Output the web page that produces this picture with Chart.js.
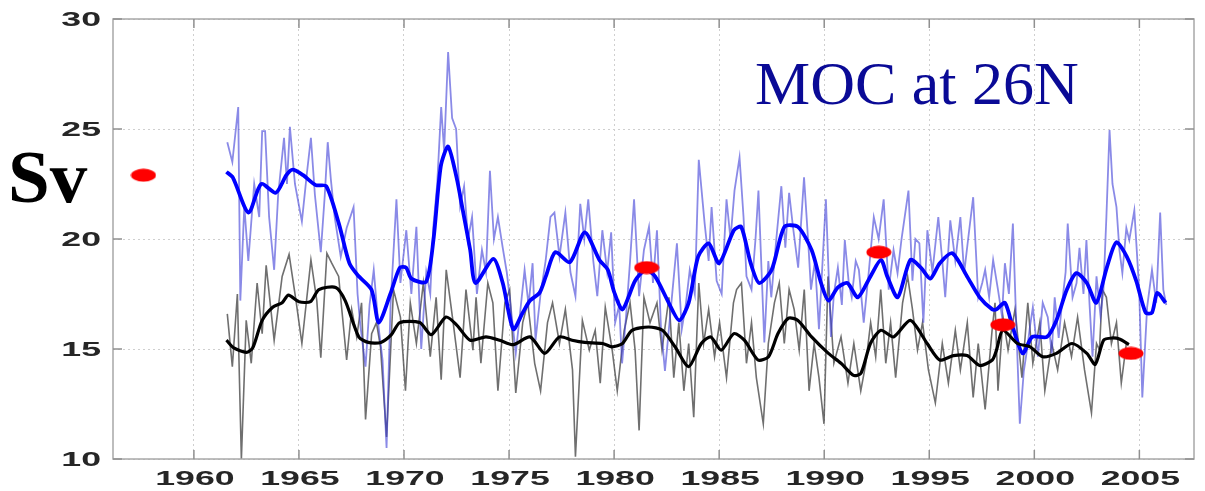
<!DOCTYPE html>
<html>
<head>
<meta charset="utf-8">
<title>MOC at 26N</title>
<script src="https://cdn.jsdelivr.net/npm/chart.js@4.4.1/dist/chart.umd.min.js"></script>
<style>
  html, body { margin: 0; padding: 0; background: #ffffff; }
  #wrap { width: 1205px; height: 491px; }
</style>
</head>
<body>
<div id="wrap"><canvas id="mocChart" width="1205" height="491"></canvas></div>
<script>
// --- Data ---
const rawBlueYears = [
  1961.59, 1961.83, 1962.11, 1962.21, 1962.40, 1962.59, 1962.87, 1963.11, 1963.25, 1963.39,
  1963.58, 1963.82, 1964.01, 1964.29, 1964.43, 1964.57, 1964.81, 1965.14, 1965.38, 1965.57,
  1965.76, 1966.04, 1966.23, 1966.37, 1966.52, 1966.70, 1966.99, 1967.27, 1967.60, 1967.79,
  1967.93, 1968.17, 1968.36, 1968.56, 1968.79, 1968.98, 1969.17, 1969.36, 1969.64, 1969.83,
  1970.11, 1970.35, 1970.59, 1970.82, 1971.06, 1971.25, 1971.39, 1971.58, 1971.77, 1971.91,
  1972.10, 1972.29, 1972.48, 1972.67, 1972.86, 1973.05, 1973.24, 1973.47, 1973.71, 1973.90,
  1974.09, 1974.28, 1974.47, 1974.70, 1974.89, 1975.03, 1975.32, 1975.51, 1975.74, 1975.93,
  1976.12, 1976.26, 1976.50, 1976.74, 1976.97, 1977.16, 1977.40, 1977.68, 1977.92, 1978.16,
  1978.39, 1978.58, 1978.77, 1979.01, 1979.20, 1979.44, 1979.67, 1979.86, 1980.05, 1980.24,
  1980.38, 1980.57, 1980.76, 1980.95, 1981.19, 1981.42, 1981.66, 1981.85, 1982.04, 1982.23,
  1982.42, 1982.75, 1982.99, 1983.22, 1983.41, 1983.60, 1983.84, 1984.03, 1984.31, 1984.50,
  1984.64, 1984.88, 1985.12, 1985.35, 1985.54, 1985.73, 1985.97, 1986.16, 1986.30, 1986.54,
  1986.73, 1986.87, 1987.15, 1987.34, 1987.48, 1987.72, 1987.96, 1988.15, 1988.33, 1988.52,
  1988.76, 1989.04, 1989.23, 1989.37, 1989.56, 1989.75, 1990.08, 1990.32, 1990.46, 1990.65,
  1990.84, 1990.98, 1991.17, 1991.31, 1991.50, 1991.65, 1991.88, 1992.12, 1992.36, 1992.59,
  1992.83, 1993.07, 1993.30, 1993.49, 1993.68, 1994.01, 1994.20, 1994.34, 1994.53, 1994.72,
  1994.91, 1995.15, 1995.43, 1995.62, 1995.76, 1996.00, 1996.24, 1996.48, 1996.66, 1996.85,
  1997.09, 1997.33, 1997.52, 1997.66, 1997.85, 1998.04, 1998.27, 1998.46, 1998.60, 1998.79,
  1998.98, 1999.17, 1999.31, 1999.50, 1999.65, 1999.79, 1999.93, 2000.17, 2000.40, 2000.64,
  2000.83, 2000.97, 2001.16, 2001.30, 2001.49, 2001.59, 2001.82, 2002.01, 2002.15, 2002.34,
  2002.48, 2002.63, 2002.77, 2002.96, 2003.15, 2003.29, 2003.43, 2003.58, 2003.72, 2003.91,
  2004.05, 2004.19, 2004.38, 2004.52, 2004.76, 2004.99, 2005.14, 2005.37, 2005.60, 2005.80,
  2005.99, 2006.14, 2006.28
];
const rawBlueValues = [
  24.4, 23.5, 26.0, 17.2, 21.5, 19.0, 22.5, 21.0, 24.9, 24.9,
  21.0, 18.6, 22.0, 24.6, 22.5, 25.1, 22.5, 20.8, 23.0, 24.6,
  22.0, 19.4, 22.0, 24.4, 22.7, 21.0, 19.2, 20.5, 21.45, 17.5,
  16.0, 14.2, 17.0, 18.6, 16.0, 14.5, 10.5, 17.0, 21.8, 18.0,
  20.4, 17.5, 20.55, 15.0, 18.5, 17.5, 20.5, 22.5, 26.0, 24.0,
  28.5, 25.5, 25.0, 21.5, 22.4, 20.0, 21.0, 17.5, 19.5, 18.5,
  23.1, 20.0, 21.0, 19.6, 18.5, 17.35, 14.8, 16.5, 18.6, 17.0,
  18.9, 15.4, 17.5, 19.0, 21.0, 21.2, 19.2, 21.2, 18.5, 17.4,
  21.6, 20.0, 21.8, 19.0, 17.4, 20.4, 18.5, 20.3, 16.2, 17.0,
  14.35, 16.5, 19.0, 21.8, 17.4, 19.5, 20.55, 18.0, 20.4, 16.0,
  14.0, 17.35, 19.8, 15.9, 17.0, 18.6, 17.5, 23.6, 20.7, 19.0,
  21.45, 18.1, 17.5, 21.8, 20.0, 22.2, 23.7, 21.0, 18.3, 17.7,
  20.0, 22.2, 15.3, 19.0, 17.35, 20.0, 22.4, 19.6, 22.1, 20.5,
  18.7, 22.8, 20.0, 17.7, 19.0, 15.9, 21.8, 15.55, 17.5, 18.7,
  17.0, 19.95, 18.0, 17.35, 19.0, 18.6, 16.2, 18.5, 21.0, 20.0,
  21.8, 17.7, 19.5, 18.45, 20.0, 22.2, 18.1, 20.0, 19.8, 16.2,
  20.4, 18.5, 21.0, 19.0, 17.35, 20.85, 19.0, 21.0, 18.45, 20.0,
  21.9, 17.35, 18.0, 18.6, 17.35, 19.05, 17.7, 16.5, 18.9, 17.5,
  20.7, 15.3, 11.6, 14.0, 14.95, 16.0, 16.9, 14.65, 17.1, 16.45,
  14.8, 17.35, 15.5, 16.9, 18.5, 20.7, 17.35, 18.0, 19.6, 17.5,
  19.95, 17.0, 14.65, 18.3, 16.5, 17.7, 21.0, 24.95, 22.5, 21.45,
  19.5, 18.45, 20.5, 19.95, 21.3, 17.7, 12.8, 16.9, 18.6, 17.1,
  21.2, 17.7, 17.0
];

const rawBlackYears = [
  1961.59, 1961.83, 1962.07, 1962.26, 1962.49, 1962.73, 1963.01, 1963.25, 1963.44, 1963.82,
  1964.20, 1964.53, 1964.86, 1965.14, 1965.57, 1965.85, 1966.04, 1966.33, 1966.56, 1966.89,
  1967.27, 1967.51, 1967.75, 1967.98, 1968.17, 1968.46, 1968.69, 1968.88, 1969.17, 1969.50,
  1969.83, 1970.07, 1970.30, 1970.59, 1970.92, 1971.25, 1971.53, 1971.77, 1972.01, 1972.34,
  1972.67, 1972.95, 1973.28, 1973.43, 1973.66, 1973.99, 1974.23, 1974.47, 1974.80, 1975.03,
  1975.32, 1975.65, 1975.89, 1976.22, 1976.50, 1976.83, 1977.07, 1977.40, 1977.68, 1978.02,
  1978.16, 1978.49, 1978.82, 1979.10, 1979.34, 1979.58, 1979.91, 1980.15, 1980.48, 1980.76,
  1981.00, 1981.19, 1981.42, 1981.71, 1982.04, 1982.28, 1982.61, 1982.84, 1983.08, 1983.32,
  1983.55, 1983.79, 1984.03, 1984.26, 1984.50, 1984.78, 1985.02, 1985.35, 1985.68, 1985.83,
  1986.06, 1986.30, 1986.54, 1986.77, 1987.10, 1987.34, 1987.63, 1987.86, 1988.10, 1988.33,
  1988.57, 1988.81, 1989.05, 1989.28, 1989.52, 1989.75, 1989.99, 1990.18, 1990.46, 1990.80,
  1991.13, 1991.41, 1991.74, 1991.98, 1992.21, 1992.45, 1992.69, 1992.93, 1993.16, 1993.40,
  1993.73, 1993.97, 1994.20, 1994.44, 1994.68, 1994.96, 1995.29, 1995.62, 1995.91, 1996.24,
  1996.48, 1996.81, 1997.09, 1997.33, 1997.66, 1997.99, 1998.13, 1998.27, 1998.51, 1998.75,
  1999.08, 1999.41, 1999.69, 1999.93, 2000.26, 2000.50, 2000.83, 2001.11, 2001.44, 2001.77,
  2002.06, 2002.39, 2002.72, 2002.96, 2003.10, 2003.24, 2003.43, 2003.67, 2003.91, 2004.14,
  2004.38
];
const rawBlackValues = [
  16.6, 14.2, 17.5, 10.0, 16.3, 14.35, 18.0, 15.7, 18.8, 15.4,
  18.3, 19.3, 17.2, 15.25, 19.05, 17.2, 14.6, 19.35, 18.9, 18.3,
  14.5, 16.8, 15.55, 17.1, 11.8, 15.7, 16.2, 15.1, 11.0, 17.7,
  16.45, 13.1, 17.1, 15.25, 18.0, 14.65, 17.35, 13.6, 18.6, 16.2,
  13.7, 17.7, 14.95, 17.35, 14.35, 18.0, 17.1, 13.1, 17.1, 17.7,
  13.0, 16.2, 17.1, 14.35, 13.1, 16.2, 17.1, 15.25, 16.8, 14.05,
  10.1, 16.3, 14.95, 15.85, 13.45, 16.9, 14.95, 13.1, 15.85, 17.1,
  14.95, 11.3, 17.35, 16.2, 17.1, 14.95, 17.35, 13.7, 16.2, 13.1,
  15.25, 11.9, 18.0, 15.25, 16.8, 14.65, 16.2, 13.7, 17.1, 17.7,
  18.0, 14.35, 16.2, 13.7, 11.6, 15.25, 17.1, 18.0, 15.25, 17.7,
  16.8, 14.95, 17.7, 13.1, 15.25, 13.7, 11.6, 18.3, 14.35, 15.55,
  13.45, 15.25, 13.1, 14.35, 16.2, 14.65, 17.7, 14.35, 16.2, 13.7,
  17.1, 18.3, 16.8, 14.95, 16.2, 14.05, 12.55, 15.25, 13.45, 15.85,
  14.05, 16.2, 12.8, 15.25, 12.25, 15.85, 17.1, 13.1, 16.45, 14.95,
  16.8, 13.7, 17.1, 14.35, 16.2, 13.1, 15.25, 14.05, 16.2, 14.65,
  16.45, 14.05, 12.1, 15.25, 14.95, 17.7, 17.35, 15.25, 16.2, 13.45,
  15.25
];

const smoothBlueYears = [
  1961.55, 1961.85, 1962.6, 1963.2, 1963.9, 1964.4, 1964.7, 1965.2, 1965.8, 1966.3,
  1966.9, 1967.4, 1967.8, 1968.45, 1968.8, 1969.35, 1969.8, 1970.1, 1970.35, 1971.05,
  1971.4, 1971.75, 1972.1, 1972.5, 1972.8, 1973.15, 1973.4, 1974.25, 1974.7, 1975.2,
  1975.65, 1976.0, 1976.45, 1976.75, 1977.2, 1977.9, 1978.6, 1979.3, 1979.7, 1980.0,
  1980.4, 1981.0, 1981.5, 1981.95, 1982.6, 1983.1, 1983.55, 1984.0, 1984.5, 1985.0,
  1985.7, 1986.05, 1986.5, 1986.9, 1987.5, 1988.1, 1988.75, 1989.4, 1989.85, 1990.2,
  1990.65, 1991.1, 1991.6, 1992.2, 1992.7, 1993.0, 1993.5, 1994.1, 1994.6, 1995.05,
  1995.5, 1996.1, 1996.8, 1997.4, 1998.0, 1998.2, 1998.6, 1999.0, 1999.45, 1999.9,
  2000.6, 2001.05, 2001.55, 2002.0, 2002.5, 2002.95, 2003.45, 2003.9, 2004.4, 2004.85,
  2005.3, 2005.6, 2005.85, 2006.25
];
const smoothBlueValues = [
  23.05, 22.8, 21.2, 22.5, 22.1, 22.9, 23.15, 22.9, 22.45, 22.4,
  20.7, 18.9, 18.35, 17.7, 16.2, 17.5, 18.7, 18.7, 18.2, 18.05,
  19.95, 23.3, 24.2, 22.8, 21.3, 19.5, 18.0, 19.1, 18.0, 15.9,
  16.65, 17.2, 17.55, 18.3, 19.4, 18.95, 20.3, 19.05, 18.6, 17.6,
  16.8, 18.1, 18.6, 18.3, 17.1, 16.3, 17.1, 19.2, 19.8, 18.9,
  20.4, 20.55, 18.9, 18.0, 18.6, 20.55, 20.55, 19.5, 18.0, 17.2,
  17.8, 18.0, 17.35, 18.3, 19.05, 18.3, 17.35, 19.05, 18.7, 18.2,
  18.9, 19.35, 18.3, 17.35, 16.8, 16.8, 17.1, 15.9, 14.8, 15.55,
  15.55, 16.3, 17.7, 18.45, 18.0, 17.1, 18.7, 19.85, 19.2, 18.1,
  16.65, 16.65, 17.55, 17.1
];

const smoothBlackYears = [
  1961.55, 1961.9, 1962.5, 1962.8, 1963.25, 1963.75, 1964.2, 1964.5, 1965.0, 1965.55,
  1965.95, 1966.75, 1967.2, 1967.85, 1968.3, 1968.9, 1969.4, 1969.8, 1970.75, 1971.3,
  1972.0, 1972.5, 1973.15, 1973.9, 1974.55, 1975.2, 1976.0, 1976.7, 1977.4, 1978.0,
  1978.6, 1979.45, 1979.9, 1980.4, 1980.85, 1981.65, 1982.3, 1982.9, 1983.55, 1984.15,
  1984.6, 1985.1, 1985.7, 1986.2, 1986.85, 1987.35, 1987.8, 1988.3, 1988.75, 1989.4,
  1990.2, 1990.8, 1991.4, 1991.75, 1992.2, 1992.7, 1993.3, 1994.1, 1994.9, 1995.5,
  1996.15, 1996.8, 1997.4, 1998.0, 1998.2, 1998.5, 1999.2, 1999.8, 2000.4, 2001.05,
  2001.8, 2002.5, 2002.9, 2003.3, 2003.7, 2004.05, 2004.5
];
const smoothBlackValues = [
  15.4, 15.05, 14.85, 15.05, 16.3, 16.9, 17.1, 17.45, 17.15, 17.15,
  17.7, 17.8, 17.2, 15.55, 15.3, 15.3, 15.65, 16.2, 16.2, 15.65,
  16.45, 16.1, 15.4, 15.55, 15.4, 15.2, 15.55, 14.8, 15.55, 15.4,
  15.3, 15.25, 15.1, 15.25, 15.85, 16.0, 15.85, 15.1, 14.2, 15.25,
  15.55, 14.95, 15.7, 15.4, 14.5, 14.65, 15.7, 16.4, 16.3, 15.55,
  14.8, 14.35, 13.8, 13.9, 15.25, 15.85, 15.55, 16.3, 15.25, 14.5,
  14.7, 14.7, 14.25, 14.5, 14.95, 15.85, 15.25, 15.1, 14.65, 14.8,
  15.25, 14.8, 14.3, 15.4, 15.5, 15.45, 15.2
];

// hydrographic section estimates (red ellipses)
const sectionYears = [1957.6, 1981.55, 1992.6, 1998.5, 2004.6];
const sectionValues = [22.9, 18.7, 19.4, 16.1, 14.8];

const xTickValues = [1960, 1965, 1970, 1975, 1980, 1985, 1990, 1995, 2000, 2005];
const yTickValues = [10, 15, 20, 25, 30];

// --- helpers ---
function toPoints(xs, ys) {
    return xs.map((x, i) => ({ x: x, y: ys[i] }));
}

// red ellipse marker
const ellipseMarker = document.createElement('canvas');
ellipseMarker.width = 26;
ellipseMarker.height = 14;
(function () {
    const c = ellipseMarker.getContext('2d');
    c.fillStyle = '#ff0000';
    c.beginPath();
    c.ellipse(13, 7, 12.5, 6.5, 0, 0, Math.PI * 2);
    c.fill();
})();

// frame, inward tick marks, stretched tick labels and the two text overlays
const decorations = {
    id: 'decorations',
    afterDraw(chart) {
        const ctx = chart.ctx;
        const area = chart.chartArea;
        const xs = chart.scales.x;
        const ys = chart.scales.y;

        ctx.save();
        // box
        ctx.strokeStyle = '#a8a8a8';
        ctx.lineWidth = 1.5;
        ctx.strokeRect(area.left, area.top, area.right - area.left, area.bottom - area.top);

        // tick marks
        ctx.strokeStyle = '#909090';
        ctx.lineWidth = 1.5;
        ctx.beginPath();
        yTickValues.forEach(v => {
            const py = ys.getPixelForValue(v);
            ctx.moveTo(area.left, py); ctx.lineTo(area.left + 9, py);
            ctx.moveTo(area.right - 9, py); ctx.lineTo(area.right, py);
        });
        xTickValues.forEach(v => {
            const px = xs.getPixelForValue(v);
            ctx.moveTo(px, area.bottom); ctx.lineTo(px, area.bottom - 9);
            ctx.moveTo(px, area.top); ctx.lineTo(px, area.top + 9);
        });
        ctx.stroke();

        // tick labels (the plot image in the original is stretched sideways)
        ctx.fillStyle = '#262626';
        ctx.font = 'bold 21px "Liberation Sans", Arial, sans-serif';
        ctx.textBaseline = 'middle';
        yTickValues.forEach(v => {
            ctx.save();
            ctx.translate(area.left - 12, ys.getPixelForValue(v) + 1);
            ctx.scale(1.7, 1);
            ctx.textAlign = 'right';
            ctx.fillText(String(v), 0, 0);
            ctx.restore();
        });
        xTickValues.forEach(v => {
            ctx.save();
            ctx.translate(xs.getPixelForValue(v) + 1, area.bottom + 20);
            ctx.scale(1.7, 1);
            ctx.textAlign = 'center';
            ctx.fillText(String(v), 0, 0);
            ctx.restore();
        });

        // unit label
        ctx.fillStyle = '#000000';
        ctx.font = 'bold 75px "Liberation Serif", "Times New Roman", serif';
        ctx.textAlign = 'left';
        ctx.textBaseline = 'alphabetic';
        ctx.fillText('Sv', 8, 202);

        // title
        ctx.fillStyle = '#0a0a96';
        ctx.font = '62px "Liberation Serif", "Times New Roman", serif';
        ctx.fillText('MOC at 26N', 755, 104);
        ctx.restore();
    }
};

document.addEventListener('DOMContentLoaded', function () {
    const ctx = document.getElementById('mocChart');

    new Chart(ctx.getContext('2d'), {
        type: 'line',
        data: {
            datasets: [
                {
                    label: 'Section estimates',
                    type: 'scatter',
                    data: toPoints(sectionYears, sectionValues),
                    pointStyle: ellipseMarker,
                    pointRadius: 10,
                    showLine: false
                },
                {
                    label: 'Smoothed (black)',
                    data: toPoints(smoothBlackYears, smoothBlackValues),
                    borderColor: '#000000',
                    borderWidth: 3.2,
                    pointRadius: 0,
                    tension: 0.25
                },
                {
                    label: 'Smoothed (blue)',
                    data: toPoints(smoothBlueYears, smoothBlueValues),
                    borderColor: '#0000ff',
                    borderWidth: 3.8,
                    pointRadius: 0,
                    tension: 0.25
                },
                {
                    label: 'Monthly (blue)',
                    data: toPoints(rawBlueYears, rawBlueValues),
                    borderColor: 'rgba(60, 60, 215, 0.6)',
                    borderWidth: 1.8,
                    pointRadius: 0,
                    tension: 0
                },
                {
                    label: 'Monthly (black)',
                    data: toPoints(rawBlackYears, rawBlackValues),
                    borderColor: 'rgba(50, 50, 50, 0.7)',
                    borderWidth: 1.6,
                    pointRadius: 0,
                    tension: 0
                }
            ]
        },
        options: {
            responsive: false,
            animation: false,
            devicePixelRatio: 1,
            layout: { padding: { top: 19, right: 5, left: 0, bottom: 0 } },
            scales: {
                x: {
                    type: 'linear',
                    min: 1956.15,
                    max: 2007.6,
                    afterBuildTicks: s => { s.ticks = xTickValues.map(v => ({ value: v })); },
                    afterFit: s => { s.height = 32; },
                    ticks: { display: false },
                    grid: { color: '#cfcfcf', lineWidth: 1, drawTicks: false },
                    border: { display: false, dash: [2, 3] }
                },
                y: {
                    min: 10,
                    max: 30,
                    afterBuildTicks: s => { s.ticks = yTickValues.map(v => ({ value: v })); },
                    afterFit: s => { s.width = 113; },
                    ticks: { display: false },
                    grid: { color: '#cfcfcf', lineWidth: 1, drawTicks: false },
                    border: { display: false, dash: [2, 3] }
                }
            },
            plugins: {
                legend: { display: false },
                tooltip: { enabled: false },
                title: { display: false }
            }
        },
        plugins: [decorations]
    });
});
</script>
</body>
</html>
